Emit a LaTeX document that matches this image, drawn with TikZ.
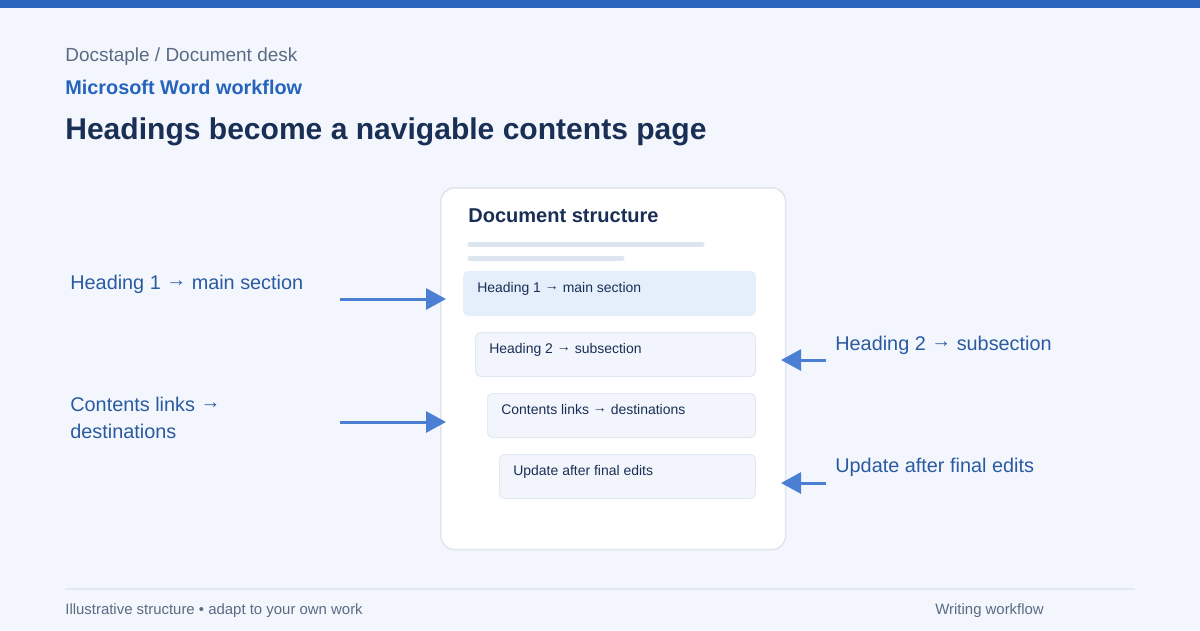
\documentclass[tikz,border=0pt]{standalone}
\usepackage{fontspec}
\setmainfont{Liberation Sans}
\newcommand{\toarrow}{\raisebox{0.12em}{→}}
\usetikzlibrary{arrows.meta, positioning}
\definecolor{topbar}{HTML}{2B64BD}
\definecolor{pagebg}{HTML}{F3F7FD}
\definecolor{muted}{HTML}{5B6B82}
\definecolor{accent}{HTML}{2563BD}
\definecolor{navy}{HTML}{1A2F55}
\definecolor{cardline}{HTML}{DDE5EF}
\definecolor{skelgray}{HTML}{DCE5F0}
\definecolor{rowmain}{HTML}{E5EEFB}
\definecolor{rowsub}{HTML}{F2F6FC}
\definecolor{rowline}{HTML}{E3E9F2}
\definecolor{flowblue}{HTML}{4A7FD4}
\definecolor{labelblue}{HTML}{2A5AA0}
\tikzset{
  txt/.style={anchor=base west, inner sep=0pt},
  card/.style={draw=cardline, fill=white, line width=0.03cm, rounded corners=0.28cm, anchor=north west, inner sep=0pt},
  rowbox/.style={draw=rowline, line width=0.02cm, rounded corners=0.1cm, anchor=north west, minimum height=0.88cm, inner sep=0pt},
  rowtext/.style={txt, text=navy, font=\fontsize{7.95}{9}\selectfont},
  sidelabel/.style={txt, text=labelblue, font=\fontsize{11.3}{13}\selectfont},
  flow/.style={draw=flowblue, line width=0.06cm}
}

\begin{document}
\begin{tikzpicture}[x=0.02cm, y=-0.02cm, >={Triangle[length=0.4cm, width=0.42cm]}]
    \useasboundingbox (0,0) rectangle (1200,630);
    % Page
    \fill[pagebg] (0,0) rectangle (1200,630);
    \fill[topbar] (0,0) rectangle (1200,8);

    % Header
    \node[txt, text=muted, font=\fontsize{10.8}{12}\selectfont] (brand) at (65,61) {Docstaple / Document desk};
    \node[txt, text=accent, font=\bfseries\fontsize{11.3}{13}\selectfont] (topic) at (65,94) {Microsoft Word workflow};
    \node[txt, text=navy, font=\bfseries\fontsize{17.1}{20}\selectfont] (title) at (65,139) {Headings become a navigable contents page};

    % Card
    \node[card, minimum width=6.9cm, minimum height=7.24cm] (card) at (440,187) {};
    \node[txt, text=navy, font=\bfseries\fontsize{11.4}{13}\selectfont] (cardtitle) at (468,222) {Document structure};
    \draw[skelgray, line width=0.1cm, line cap=round] (470,244) -- (702,244);
    \draw[skelgray, line width=0.1cm, line cap=round] (470,258) -- (622,258);

    % Rows
    \node[rowbox, fill=rowmain, draw=rowmain, minimum width=5.84cm] (r1) at (463,271) {};
    \node[rowbox, fill=rowsub, minimum width=5.6cm] (r2) at (475,332) {};
    \node[rowbox, fill=rowsub, minimum width=5.36cm] (r3) at (487,393) {};
    \node[rowbox, fill=rowsub, minimum width=5.12cm] (r4) at (499,454) {};
    \node[rowtext] (r1t) at (477,292) {Heading 1 \toarrow{} main section};
    \node[rowtext] (r2t) at (489,353) {Heading 2 \toarrow{} subsection};
    \node[rowtext] (r3t) at (501,414) {Contents links \toarrow{} destinations};
    \node[rowtext] (r4t) at (513,475) {Update after final edits};

    % Side labels
    \node[sidelabel] (l1) at (70,289) {Heading 1 \toarrow{} main section};
    \node[sidelabel] (l2) at (70,411) {Contents links \toarrow};
    \node[sidelabel] (l2b) at (70,438) {destinations};
    \node[sidelabel] (l3) at (835,350) {Heading 2 \toarrow{} subsection};
    \node[sidelabel] (l4) at (835,472) {Update after final edits};

    % Arrows
    \coordinate (a1s) at (340,299);
    \coordinate (a1e) at (446,299);
    \coordinate (a2s) at (340,422);
    \coordinate (a2e) at (446,422);
    \coordinate (a3s) at (826,360);
    \coordinate (a3e) at (781,360);
    \coordinate (a4s) at (826,483);
    \coordinate (a4e) at (781,483);
    \draw[flow, ->] (a1s) -- (a1e);
    \draw[flow, ->] (a2s) -- (a2e);
    \draw[flow, ->] (a3s) -- (a3e);
    \draw[flow, ->] (a4s) -- (a4e);

    % Footer
    \draw[rowline, line width=0.04cm] (65,589) -- (1135,589);
    \node[txt, text=muted, font=\fontsize{8.5}{10}\selectfont] (note) at (65,614) {Illustrative structure • adapt to your own work};
    \node[txt, text=muted, font=\fontsize{8.5}{10}\selectfont] (tag) at (935,614) {Writing workflow};
\end{tikzpicture}
\end{document}
